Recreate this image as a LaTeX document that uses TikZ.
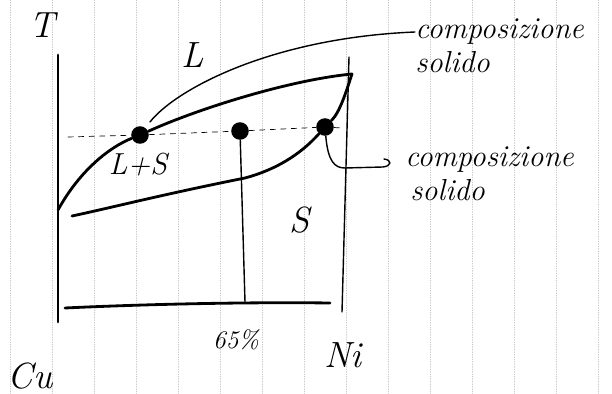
\documentclass[tikz,border=0pt]{standalone}
\usepackage{tikz}

\begin{document}
\begin{tikzpicture}[x=0.02cm, y=-0.02cm, >=stealth, line cap=round,
        lbl/.style={font=\itshape\huge, inner sep=0pt},
        note/.style={font=\itshape\LARGE, inner sep=0pt, anchor=west},
        dot/.style={circle, fill, inner sep=0pt, minimum size=10pt},
        curve/.style={line width=1.6pt}]
    \useasboundingbox (0,0) rectangle (612,394);
    % paper grid
    \foreach \gx in {10,52,...,610}
        \draw[gray!45, densely dotted] (\gx,0) -- (\gx,394);
    % axes and Ni line
    \draw[curve] (58,55) -- (58,322);
    \draw[curve] (65,308) .. controls (150,304) and (250,302) .. (330,303);
    \draw[thick] (349,57) -- (342,312);
    % points
    \coordinate (cu) at (58,210);
    \coordinate (ni) at (352,74);
    \node[dot] (liq) at (140,135) {};
    \node[dot] (mid) at (240,131) {};
    \node[dot] (sol) at (325,127) {};
    % liquidus and solidus
    \draw[curve] (cu) .. controls (80,170) and (110,147) .. (liq)
        .. controls (200,108) and (290,80) .. (ni);
    \draw[curve] (ni) .. controls (346,92) and (340,112) .. (sol)
        .. controls (300,155) and (275,170) .. (245,178)
        .. controls (160,195) and (110,208) .. (72,216);
    % tie line and 65% line
    \draw[thin, dashed] (68,137) -- (liq) -- (mid) -- (sol) -- (342,128);
    \draw[thick] (mid) -- (245,302);
    % labels
    \node[lbl] (tax) at (42,25) {T};
    \node[lbl] (liqlbl) at (193,55) {L};
    \node[font=\itshape\LARGE] (twolbl) at (138,165) {L+S};
    \node[lbl] (sollbl) at (300,220) {S};
    \node[font=\itshape\Large] (pct) at (236,340) {65\%};
    \node[lbl] (nilbl) at (343,355) {Ni};
    \node[lbl] (culbl) at (30,376) {Cu};
    \node[note] (compA) at (415,32) {composizione};
    \node[note] (solA) at (415,62) {solido};
    \node[note] (compB) at (405,160) {composizione};
    \node[note] (solB) at (410,190) {solido};
    % pointers
    \draw[thick] (liq) ++(10,-13) .. controls (175,90) and (270,38) .. (compA.west);
    \draw[thick] (sol) .. controls (328,162) and (335,168) .. (345,168) -- (383,167)
        .. controls (392,166) and (392,160) .. (384,159);
\end{tikzpicture}
\end{document}
